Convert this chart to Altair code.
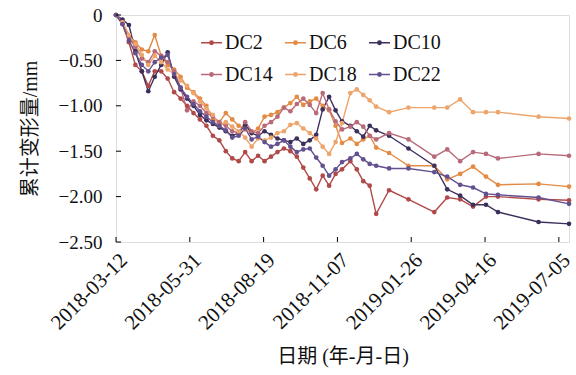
import altair as alt
import pandas as pd

dates = [
    "2018-03-12", "2018-03-19", "2018-03-26", "2018-04-02", "2018-04-09", "2018-04-16",
    "2018-04-23", "2018-04-30", "2018-05-07", "2018-05-14", "2018-05-21", "2018-05-28",
    "2018-06-04", "2018-06-11", "2018-06-18", "2018-06-25", "2018-07-02", "2018-07-09",
    "2018-07-16", "2018-07-23", "2018-07-30", "2018-08-06", "2018-08-13", "2018-08-20",
    "2018-08-27", "2018-09-03", "2018-09-10", "2018-09-17", "2018-09-24", "2018-10-01",
    "2018-10-08", "2018-10-15", "2018-10-22", "2018-10-29", "2018-11-05", "2018-11-12",
    "2018-11-21", "2018-11-28", "2018-12-05", "2018-12-12", "2018-12-19", "2019-01-02",
    "2019-01-23", "2019-02-20", "2019-03-06", "2019-03-20", "2019-04-03", "2019-04-17",
    "2019-04-30", "2019-06-13", "2019-07-16",
]

series_names = ["DC2", "DC6", "DC10", "DC14", "DC18", "DC22"]
series_colors = ["#b04a48", "#e38b45", "#3c2f5c", "#b86a7a", "#eda56c", "#63508f"]

dc2 = [0, -0.10, -0.30, -0.55, -0.62, -0.78, -0.62, -0.62, -0.70, -0.85, -0.92, -1.00,
       -1.08, -1.15, -1.22, -1.33, -1.38, -1.50, -1.58, -1.61, -1.51, -1.61, -1.55, -1.61,
       -1.56, -1.51, -1.47, -1.50, -1.56, -1.68, -1.80, -1.92, -1.77, -1.88, -1.75, -1.70,
       -1.61, -1.70, -1.83, -1.88, -2.19, -1.93, -2.03, -2.17, -2.01, -2.03, -2.11, -2.00,
       -2.00, -2.03, -2.04]
dc6 = [0, -0.08, -0.22, -0.30, -0.38, -0.40, -0.22, -0.45, -0.55, -0.60, -0.68, -0.80,
       -0.85, -0.92, -1.00, -1.15, -1.18, -1.08, -1.15, -1.22, -1.26, -1.30, -1.25, -1.12,
       -1.10, -1.07, -1.02, -0.97, -0.90, -0.99, -0.95, -0.92, -1.00, -1.05, -1.22, -1.41,
       -1.36, -1.42, -1.37, -1.33, -1.46, -1.52, -1.66, -1.66, -1.81, -1.75, -1.67, -1.78,
       -1.87, -1.86, -1.89]
dc10 = [0, -0.05, -0.11, -0.40, -0.62, -0.84, -0.68, -0.55, -0.41, -0.68, -0.82, -0.92,
        -1.00, -1.10, -1.16, -1.20, -1.24, -1.28, -1.33, -1.30, -1.21, -1.30, -1.33, -1.28,
        -1.32, -1.36, -1.38, -1.40, -1.36, -1.42, -1.38, -1.32, -1.04, -0.90, -1.05, -1.17,
        -1.22, -1.28, -1.34, -1.22, -1.27, -1.33, -1.47, -1.66, -1.92, -1.99, -2.09, -2.09,
        -2.17, -2.28, -2.30]
dc14 = [0, -0.08, -0.25, -0.35, -0.48, -0.52, -0.40, -0.45, -0.52, -0.62, -0.80, -1.05,
        -0.95, -1.00, -1.08, -1.12, -1.18, -1.22, -1.28, -1.30, -1.18, -1.28, -1.30, -1.22,
        -1.18, -1.12, -1.02, -1.06, -0.98, -0.92, -0.99, -1.08, -0.86, -1.04, -1.17, -1.26,
        -1.23, -1.18, -1.23, -1.33, -1.37, -1.30, -1.37, -1.56, -1.48, -1.61, -1.51, -1.53,
        -1.58, -1.53, -1.55]
dc18 = [0, -0.08, -0.22, -0.32, -0.44, -0.55, -0.45, -0.52, -0.60, -0.65, -0.72, -0.78,
        -0.86, -0.95, -1.03, -1.10, -1.22, -1.18, -1.23, -1.28, -1.35, -1.45, -1.36, -1.38,
        -1.35, -1.30, -1.28, -1.21, -1.19, -1.25, -1.30, -1.36, -1.45, -1.53, -1.40, -1.19,
        -0.86, -0.82, -0.88, -0.94, -1.01, -1.07, -1.02, -1.02, -1.02, -0.93, -1.07, -1.07,
        -1.07, -1.12, -1.14]
dc22 = [0, -0.10, -0.28, -0.42, -0.55, -0.62, -0.52, -0.47, -0.44, -0.65, -0.80, -0.90,
        -0.98, -1.06, -1.12, -1.18, -1.22, -1.27, -1.35, -1.33, -1.25, -1.37, -1.34, -1.40,
        -1.45, -1.42, -1.38, -1.45, -1.51, -1.48, -1.47, -1.57, -1.66, -1.77, -1.70, -1.62,
        -1.58, -1.53, -1.59, -1.64, -1.66, -1.69, -1.69, -1.73, -1.78, -1.87, -1.90, -1.97,
        -1.98, -2.01, -2.08]

tick_labels = ["2018-03-12", "2018-05-31", "2018-08-19", "2018-11-07",
               "2019-01-26", "2019-04-16", "2019-07-05"]
y_ticks = [0, -0.5, -1.0, -1.5, -2.0, -2.5]

start = pd.Timestamp(tick_labels[0])
days = [(pd.Timestamp(d) - start).days for d in dates]
tick_days = [(pd.Timestamp(d) - start).days for d in tick_labels]

rows = []
for name, vals in zip(series_names, [dc2, dc6, dc10, dc14, dc18, dc22]):
    for d, v in zip(days, vals):
        rows.append({"day": d, "value": v, "series": name})
df = pd.DataFrame(rows)

W, H = 453, 227
FONT = "Times New Roman, Liberation Serif, DejaVu Serif, serif"
TITLE_FONT = "Times New Roman, Liberation Serif, Noto Sans CJK SC, serif"

label_expr_x = ("[" + ",".join(f"'{t}'" for t in tick_labels) + "][indexof(["
                + ",".join(str(d) for d in tick_days) + "], datum.value)]")

x_scale = alt.Scale(domain=[0, days[-1]], nice=False, zero=False)
y_scale = alt.Scale(domain=[-2.5, 0], nice=False)

lines = alt.Chart(df).mark_line(
    strokeWidth=1.4,
    point=alt.OverlayMarkDef(filled=True, size=22),
).encode(
    x=alt.X("day:Q", scale=x_scale,
            axis=alt.Axis(values=tick_days, labelExpr=label_expr_x, labelAngle=-45,
                          labelAlign="right", labelBaseline="top", labelPadding=7,
                          labelBound=False, labelOverlap=False,
                          ticks=False, grid=False, domain=False, title="日期 (年-月-日)",
                          titlePadding=13, labelFontSize=21, titleFontSize=20,
                          labelFont=FONT, titleFont=TITLE_FONT, labelColor="#111",
                          titleColor="#111", titleFontWeight="normal")),
    y=alt.Y("value:Q", scale=y_scale,
            axis=alt.Axis(values=y_ticks,
                          labelExpr="datum.value == 0 ? '0' : format(datum.value, '.2f')",
                          ticks=False, grid=False, domain=False, title="累计变形量/mm",
                          labelPadding=14, titlePadding=18, labelFontSize=19,
                          titleFontSize=20, labelFont=FONT, titleFont=TITLE_FONT,
                          labelColor="#111", titleColor="#111", titleFontWeight="normal")),
    color=alt.Color("series:N", sort=series_names,
                    scale=alt.Scale(domain=series_names, range=series_colors),
                    legend=alt.Legend(orient="none", legendX=84, legendY=16, columns=3,
                                      direction="horizontal",
                                      title=None, labelFont=FONT, labelFontSize=20,
                                      labelColor="#111", labelOffset=2,
                                      symbolType="M-1,0H1M-0.16,0a0.16,0.16 0 1,0 0.32,0a0.16,0.16 0 1,0 -0.32,0",
                                      symbolSize=440, symbolStrokeWidth=1.5,
                                      columnPadding=9, rowPadding=10)),
    order=alt.Order("day:Q"),
)

ytick_df = pd.DataFrame({"value": y_ticks})
yticks = alt.Chart(ytick_df).mark_rule(color="black", strokeWidth=1).encode(
    y=alt.Y("value:Q", scale=y_scale), x=alt.value(0), x2=alt.value(5)
)
xtick_df = pd.DataFrame({"day": tick_days})
xticks = alt.Chart(xtick_df).mark_rule(color="black", strokeWidth=1).encode(
    x=alt.X("day:Q", scale=x_scale), y=alt.value(H), y2=alt.value(H - 5)
)

chart = alt.layer(lines, yticks, xticks).properties(
    width=W, height=H,
    padding={"left": 116, "top": 15, "right": 7, "bottom": 133},
    autosize=alt.AutoSizeParams(type="none"),
).configure_view(stroke="black", strokeWidth=1.3).configure(background="white")

chart.save("out.html", embed_options={"renderer": "svg", "actions": False})
